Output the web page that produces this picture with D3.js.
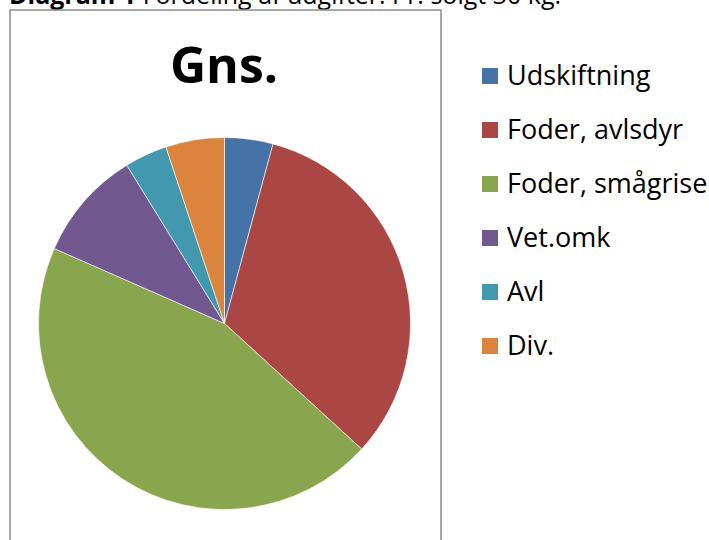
<!DOCTYPE html>
<html>
<head>
<meta charset="utf-8">
<script src="https://cdn.jsdelivr.net/npm/d3@7"></script>
<style>
  body { margin: 0; background: #fff; }
  svg { display: block; font-family: "Open Sans", "Liberation Sans", sans-serif; }
</style>
</head>
<body>
<div id="chart"></div>
<script>
// categories and their share of the costs (%)
const categories = ["Udskiftning", "Foder, avlsdyr", "Foder, smågrise", "Vet.omk", "Avl", "Div."];
const shares = [4.2, 32.6, 44.8, 9.6, 3.7, 5.1];
const colors = ["#4572A7", "#AA4643", "#89A54E", "#71588F", "#4198AF", "#DB843D"];
const chartTitle = "Gns.";

const width = 709, height = 540;

const svg = d3.select("#chart").append("svg")
  .attr("width", width)
  .attr("height", height);

// caption above the chart, mostly cut off at the top of the page (as in the source)
const caption = svg.append("text")
  .attr("x", 9)
  .attr("y", 4)
  .attr("font-size", 25)
  .attr("fill", "#000");
caption.append("tspan").attr("font-weight", "bold").text("Diagram 1");
caption.append("tspan").text(" Fordeling af udgifter. Pr. solgt 30 kg.");

// chart frame
svg.append("rect")
  .attr("x", 10)
  .attr("y", 10)
  .attr("width", 431)
  .attr("height", 560)
  .attr("fill", "none")
  .attr("stroke", "#8c8c8c")
  .attr("stroke-width", 1.5);

svg.append("text")
  .attr("x", 224)
  .attr("y", 83)
  .attr("text-anchor", "middle")
  .attr("font-size", 50)
  .attr("font-weight", "bold")
  .text(chartTitle);

const data = categories.map((c, i) => ({ name: c, value: shares[i], color: colors[i] }));

const pie = d3.pie().sort(null).value(d => d.value);
const arc = d3.arc().innerRadius(0).outerRadius(186);

const g = svg.append("g").attr("transform", "translate(224.5,323.5)");

g.selectAll("path")
  .data(pie(data))
  .enter().append("path")
  .attr("d", arc)
  .attr("fill", d => d.data.color)
  .attr("stroke", "#fff")
  .attr("stroke-width", 0.6);

// legend
const legend = svg.append("g").attr("transform", "translate(482,76)");
const item = legend.selectAll("g")
  .data(data)
  .enter().append("g")
  .attr("transform", (d, i) => `translate(0,${i * 54})`);

item.append("rect")
  .attr("x", 0)
  .attr("y", -8)
  .attr("width", 16)
  .attr("height", 16)
  .attr("fill", d => d.color);

item.append("text")
  .attr("x", 25)
  .attr("y", 0)
  .attr("dy", "0.35em")
  .attr("font-size", 27)
  .text(d => d.name);
</script>
</body>
</html>
